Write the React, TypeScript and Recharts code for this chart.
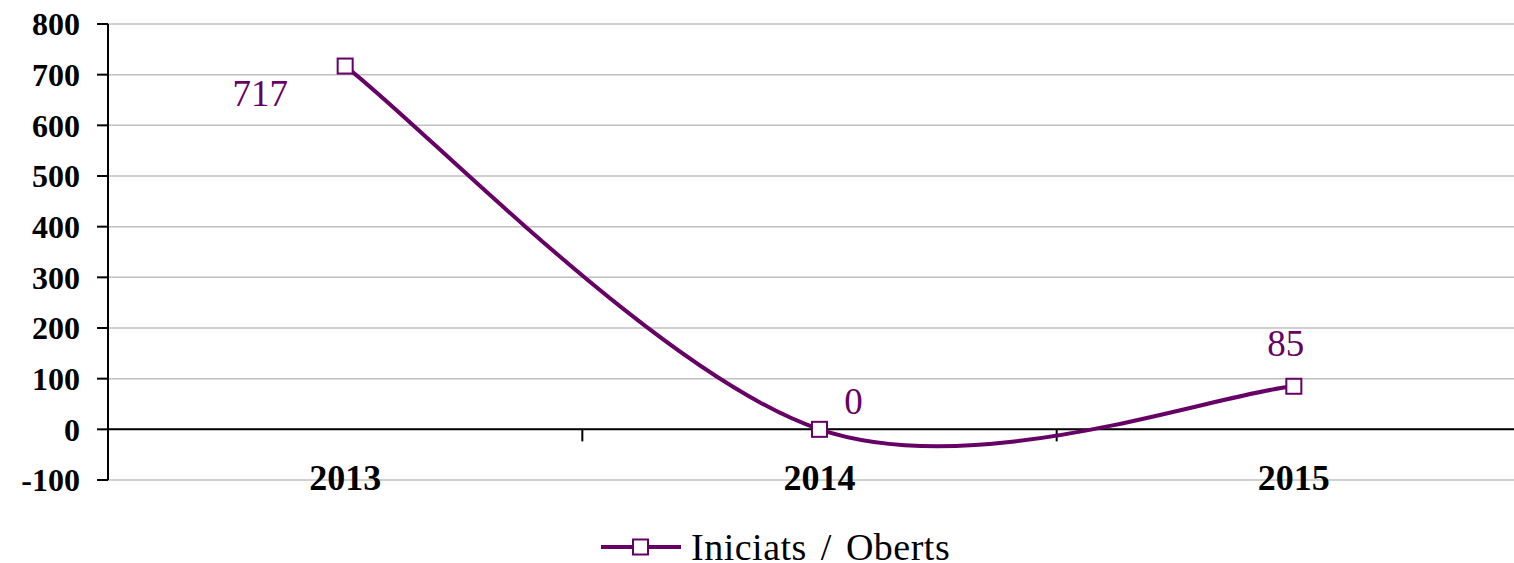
import { LineChart, Line, XAxis, YAxis, CartesianGrid, ReferenceLine, Legend } from 'recharts';

// Data
const years = ['2013', '2014', '2015'];
const iniciatsOberts = [717, 0, 85];
const yTicks = [-100, 0, 100, 200, 300, 400, 500, 600, 700, 800];
const seriesName = 'Iniciats / Oberts';

const data = years.map((year, i) => ({ year, value: iniciatsOberts[i] }));

const PURPLE = '#660066';
const FONT = '"Liberation Serif", "DejaVu Serif", serif';

// Excel style smoothed line (Catmull-Rom via bezier)
const excelSmooth = (context: any) => {
  let pts: number[][] = [];
  return {
    areaStart() {},
    areaEnd() {},
    lineStart() {
      pts = [];
    },
    point(x: number, y: number) {
      pts.push([+x, +y]);
    },
    lineEnd() {
      if (!pts.length) return;
      context.moveTo(pts[0][0], pts[0][1]);
      for (let i = 0; i < pts.length - 1; i++) {
        const p0 = pts[Math.max(i - 1, 0)];
        const p1 = pts[i];
        const p2 = pts[i + 1];
        const p3 = pts[Math.min(i + 2, pts.length - 1)];
        context.bezierCurveTo(
          p1[0] + (p2[0] - p0[0]) / 6,
          p1[1] + (p2[1] - p0[1]) / 6,
          p2[0] - (p3[0] - p1[0]) / 6,
          p2[1] - (p3[1] - p1[1]) / 6,
          p2[0],
          p2[1]
        );
      }
    },
  };
};

// label offsets per point (dx, dy relative to the marker)
const labelOffsets = [
  [-85, 27],
  [34, -28],
  [-8, -43],
];

const SquareDot = (props: any) => {
  const { cx, cy } = props;
  if (cx == null || cy == null) return null;
  return <rect x={cx - 7.5} y={cy - 7.5} width={15} height={15} fill="#fff" stroke={PURPLE} strokeWidth={2} />;
};

const ValueLabel = (props: any) => {
  const { x, y, value, index } = props;
  const [dx, dy] = labelOffsets[index] || [0, -20];
  return (
    <text
      x={x + dx}
      y={y + dy}
      textAnchor="middle"
      dominantBaseline="central"
      fill={PURPLE}
      fontFamily={FONT}
      fontSize={37}
    >
      {value}
    </text>
  );
};

const YearTick = (props: any) => {
  const { x, y, payload } = props;
  return (
    <text x={x} y={y + 8} textAnchor="middle" fontFamily={FONT} fontWeight="bold" fontSize={36} fill="#000">
      {payload.value}
    </text>
  );
};

// zero axis with tick marks between categories
const ZeroAxis = (props: any) => {
  const { x1, x2, y1 } = props;
  const step = (x2 - x1) / years.length;
  return (
    <g>
      <line x1={x1} x2={x2} y1={y1} y2={y1} stroke="#000" strokeWidth={2} />
      {years.slice(1).map((_, i) => (
        <line key={i} x1={x1 + step * (i + 1)} x2={x1 + step * (i + 1)} y1={y1} y2={y1 + 12} stroke="#000" strokeWidth={2} />
      ))}
    </g>
  );
};

const CustomLegend = () => (
  <div
    style={{
      height: 82,
      boxSizing: 'border-box',
      paddingLeft: 601,
      paddingTop: 51,
      display: 'flex',
      alignItems: 'flex-start',
      fontFamily: FONT,
      fontSize: 38,
      lineHeight: '30px',
      color: '#000',
      whiteSpace: 'nowrap',
    }}
  >
    <svg width={80} height={20} style={{ marginRight: 10, marginTop: 5 }}>
      <line x1={0} x2={80} y1={10} y2={10} stroke={PURPLE} strokeWidth={4} />
      <rect x={32} y={2.5} width={15} height={15} fill="#fff" stroke={PURPLE} strokeWidth={2} />
    </svg>
    <span style={{ letterSpacing: 0.5, wordSpacing: 4 }}>{seriesName}</span>
  </div>
);

export default function App() {
  return (
    <div style={{ position: 'absolute', left: 0, top: 0, width: 1514, height: 563, overflow: 'hidden', background: '#fff' }}>
      <LineChart width={1540} height={563} data={data} margin={{ top: 24, right: 9, left: 0, bottom: 0 }}>
        <CartesianGrid horizontal vertical={false} stroke="#c0c0c0" strokeWidth={1.5} />
        <XAxis dataKey="year" scale="band" height={1} axisLine={false} tickLine={false} tickSize={0} tick={<YearTick />} interval={0} />
        <YAxis
          width={108}
          domain={[-100, 800]}
          ticks={yTicks}
          interval={0}
          axisLine={{ stroke: '#000', strokeWidth: 2 }}
          tickLine={{ stroke: '#000', strokeWidth: 2 }}
          tickSize={11}
          tickMargin={17}
          tick={{ fontFamily: FONT, fontWeight: 'bold', fontSize: 32, fill: '#000' }}
        />
        <ReferenceLine y={0} shape={<ZeroAxis />} />
        <Legend verticalAlign="bottom" content={<CustomLegend />} wrapperStyle={{ left: 0, width: 1514 }} />
        <Line
          type={excelSmooth as any}
          dataKey="value"
          name={seriesName}
          stroke={PURPLE}
          strokeWidth={4}
          dot={<SquareDot />}
          activeDot={false}
          label={<ValueLabel />}
          isAnimationActive={false}
        />
      </LineChart>
    </div>
  );
}
